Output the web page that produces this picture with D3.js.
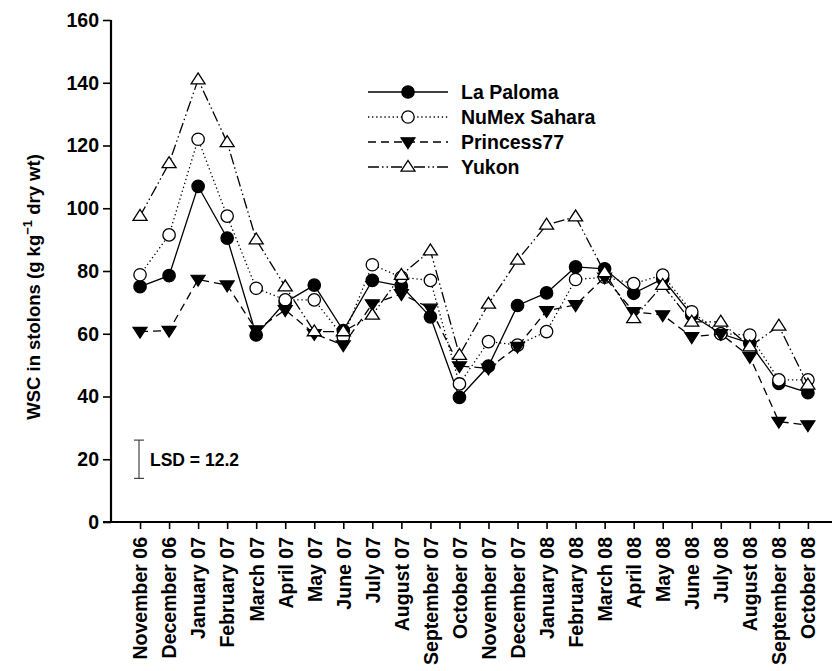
<!DOCTYPE html>
<html><head><meta charset="utf-8">
<script src="https://cdn.jsdelivr.net/npm/d3@7"></script>
<style>body{margin:0;background:#fff}svg{display:block}text{font-family:"Liberation Sans",Arial,sans-serif;font-weight:bold}</style>
</head><body><svg id="c" width="834" height="671"></svg>
<script>
const months = ["November 06","December 06","January 07","February 07","March 07","April 07","May 07","June 07","July 07","August 07","September 07","October 07","November 07","December 07","January 08","February 08","March 08","April 08","May 08","June 08","July 08","August 08","September 08","October 08"];
const laPaloma   = [75,78.5,107,90.5,59.6,70,75.5,61,77,75.2,65.4,39.7,49.7,69,73,81.3,80.7,72.9,77.5,66,60,57,44.2,41.2];
const numexSahara= [78.8,91.5,122,97.5,74.5,70.8,70.8,59,82,78,77,44,57.5,56.4,60.7,77.3,78,76,78.7,67,60,59.6,45.3,45.3];
const princess77 = [60.7,61,77.3,75.5,61.2,67.6,60,56.4,69.5,72.7,68.1,49.7,49,55.9,67.3,69.2,78,67,66,59,60,52.7,32,30.9];
const yukon      = [97.5,114.3,141,121,90,75,60.7,60.7,66,78.7,86.5,53.2,69.5,83.5,94.7,97.3,79.5,64.9,75.5,63.8,63.8,55.9,62.5,43.7];
const yTicks = [0,20,40,60,80,100,120,140,160];
const seriesNames = ["La Paloma","NuMex Sahara","Princess77","Yukon"];
const lsdValue = 12.2, lsdCenter = 20;

const series = [
  {name:seriesNames[0], values:laPaloma, dash:null, marker:"circle", fill:"#000"},
  {name:seriesNames[1], values:numexSahara, dash:"1.3,2.8", marker:"circle", fill:"#fff"},
  {name:seriesNames[2], values:princess77, dash:"8,5", marker:"down", fill:"#000"},
  {name:seriesNames[3], values:yukon, dash:"11,3,1.5,3,1.5,3", marker:"up", fill:"#fff"}
];

const svg = d3.select("#c");
const x = d3.scaleLinear().domain([-1, 23.83]).range([111, 832]);
const y = d3.scaleLinear().domain([0,160]).range([522,20]);

// axes
const yAxis = d3.axisLeft(y).tickValues(yTicks).tickSize(8).tickPadding(4);
const gy = svg.append("g").attr("transform","translate(111,0)").call(yAxis);
gy.select(".domain").attr("stroke-width",2.2).attr("d","M0,20V522");
gy.selectAll(".tick line").attr("stroke-width",1.6);
gy.selectAll(".tick text").attr("font-size",19.5).attr("fill","#000").attr("font-family","Liberation Sans, Arial, sans-serif").attr("font-weight","bold");

const xAxis = d3.axisBottom(x).tickValues(d3.range(months.length)).tickFormat(i=>months[i]).tickSize(7).tickPadding(4);
const gx = svg.append("g").attr("transform","translate(0,522)").call(xAxis);
gx.select(".domain").attr("stroke-width",2.2).attr("d","M103,0H832");
gx.selectAll(".tick line").attr("stroke-width",1.6);
gx.selectAll(".tick text").attr("font-size",19.5).attr("fill","#000")
  .attr("font-family","Liberation Sans, Arial, sans-serif").attr("font-weight","bold")
  .attr("transform","rotate(-90)").attr("text-anchor","end").attr("dy","0.35em").attr("x",-15).attr("y",0);

// y label
const yl = svg.append("text").attr("transform","translate(40,287) rotate(-90)").attr("text-anchor","middle").attr("font-size",18.5);
yl.append("tspan").text("WSC in stolons (g kg");
yl.append("tspan").text("\u22121").attr("font-size",13).attr("dy",-8);
yl.append("tspan").text(" dry wt)").attr("dy",8);

function drawMarker(g, type, fill, cx, cy){
  if(type==="circle"){
    g.append("circle").attr("cx",cx).attr("cy",cy).attr("r",6.2).attr("fill",fill).attr("stroke","#000").attr("stroke-width",1.3);
  } else if(type==="down"){
    const s=7;
    g.append("path").attr("d",`M${cx-s},${cy-s*0.6}L${cx+s},${cy-s*0.6}L${cx},${cy+s*0.95}Z`).attr("fill",fill).attr("stroke","#000").attr("stroke-width",1.2);
  } else {
    const s=7;
    g.append("path").attr("d",`M${cx-s},${cy+s*0.6}L${cx+s},${cy+s*0.6}L${cx},${cy-s*0.95}Z`).attr("fill",fill).attr("stroke","#000").attr("stroke-width",1.3);
  }
}

const line = d3.line().x((d,i)=>x(i)).y(d=>y(d));
series.forEach(s=>{
  const g = svg.append("g");
  g.append("path").attr("d",line(s.values)).attr("fill","none").attr("stroke","#000").attr("stroke-width",1.3)
    .attr("stroke-dasharray",s.dash);
  s.values.forEach((v,i)=>drawMarker(g,s.marker,s.fill,x(i),y(v)));
});

// legend
const legY = [92,117,142,167];
series.forEach((s,k)=>{
  const g = svg.append("g");
  g.append("line").attr("x1",368).attr("x2",448).attr("y1",legY[k]).attr("y2",legY[k]).attr("stroke","#000").attr("stroke-width",1.3).attr("stroke-dasharray",s.dash);
  drawMarker(g,s.marker,s.fill,408,legY[k]);
  g.append("text").attr("x",461).attr("y",legY[k]).attr("dy","0.36em").attr("font-size",19.5).text(s.name);
});

// LSD bar
const lx = 139;
svg.append("line").attr("x1",lx).attr("x2",lx).attr("y1",y(lsdCenter+lsdValue/2)).attr("y2",y(lsdCenter-lsdValue/2)).attr("stroke","#444").attr("stroke-width",1.2);
[lsdCenter+lsdValue/2, lsdCenter-lsdValue/2].forEach(v=>svg.append("line").attr("x1",lx-5).attr("x2",lx+5).attr("y1",y(v)).attr("y2",y(v)).attr("stroke","#444").attr("stroke-width",1.2));
svg.append("text").attr("x",150).attr("y",y(lsdCenter)).attr("dy","0.36em").attr("font-size",17.5).text("LSD = "+lsdValue);
</script></body></html>
